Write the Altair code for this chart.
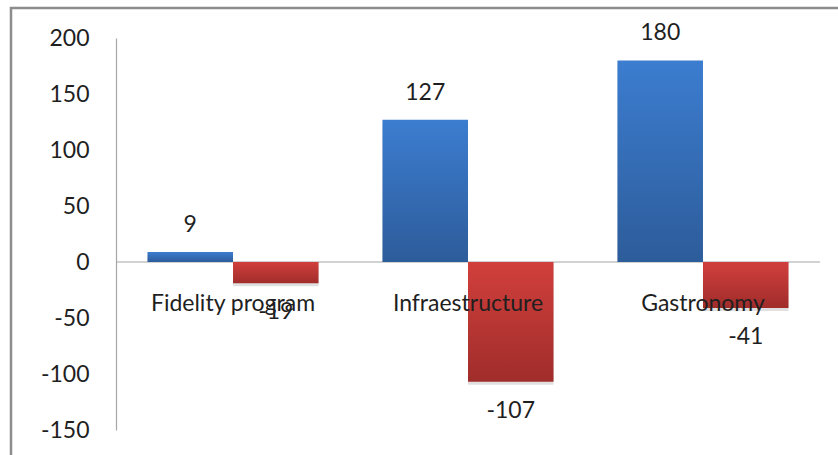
import altair as alt
import pandas as pd

categories = ["Fidelity program", "Infraestructure", "Gastronomy"]
positive_values = [9, 127, 180]
negative_values = [-19, -107, -41]
y_ticks = [-150, -100, -50, 0, 50, 100, 150, 200]

rows = []
for c, p, n in zip(categories, positive_values, negative_values):
    rows.append({"category": c, "series": "pos", "value": p})
    rows.append({"category": c, "series": "neg", "value": n})
df = pd.DataFrame(rows)
cat_df = pd.DataFrame({"category": categories})

FONT = "Lato"
W, H = 704, 392

x_enc = alt.X("category:N", sort=categories,
              scale=alt.Scale(paddingInner=0.272, paddingOuter=0.134), axis=None)
xo_enc = alt.XOffset("series:N", scale=alt.Scale(domain=["pos", "neg"], paddingInner=0, paddingOuter=0))
y_enc = alt.Y("value:Q",
              scale=alt.Scale(domain=[-150, 200], nice=False, zero=False),
              axis=alt.Axis(values=y_ticks, grid=False, ticks=False, domainColor="#a6a6a6",
                            domainWidth=1.2, labelFontSize=23, labelFont=FONT, labelColor="#1f1f1f",
                            labelPadding=27, title=None, labelExpr="toString(datum.value)"))

base = alt.Chart(df).transform_calculate(label="toString(datum.value)")

frame = alt.Chart(pd.DataFrame({"a": [0]})).mark_rect(
    fill="white", fillOpacity=0, stroke="#8c8c8c", strokeWidth=2.5
).encode(x=alt.value(-105), x2=alt.value(740), y=alt.value(-30), y2=alt.value(440))

zero_rule = alt.Chart(pd.DataFrame({"a": [0]})).mark_rule(color="#a6a6a6", strokeWidth=1.2).encode(
    y=alt.datum(0), x=alt.value(0), x2=alt.value(W)
)

shadow = base.mark_bar(color="#000000", opacity=0.12, xOffset=2, yOffset=3).encode(
    x=x_enc, xOffset=xo_enc, y=y_enc, y2=alt.datum(0)
)

blue_grad = alt.Gradient(gradient="linear", x1=0, x2=0, y1=0, y2=1,
                         stops=[alt.GradientStop(color="#3c7dd0", offset=0),
                                alt.GradientStop(color="#2d5c9a", offset=1)])
red_grad = alt.Gradient(gradient="linear", x1=0, x2=0, y1=0, y2=1,
                        stops=[alt.GradientStop(color="#d13f3c", offset=0),
                               alt.GradientStop(color="#a02d2b", offset=1)])

blue = base.transform_filter(alt.datum.series == "pos").mark_bar(color=blue_grad).encode(
    x=x_enc, xOffset=xo_enc, y=y_enc, y2=alt.datum(0)
)
red = base.transform_filter(alt.datum.series == "neg").mark_bar(color=red_grad).encode(
    x=x_enc, xOffset=xo_enc, y=y_enc, y2=alt.datum(0)
)

pos_labels = base.transform_filter(alt.datum.series == "pos").mark_text(
    font=FONT, fontSize=23, color="#1f1f1f", baseline="middle", dy=-27
).encode(x=x_enc, xOffset=xo_enc, y=y_enc, text="label:N")

neg_labels = base.transform_filter(alt.datum.series == "neg").mark_text(
    font=FONT, fontSize=23, color="#1f1f1f", baseline="middle", dy=29
).encode(x=x_enc, xOffset=xo_enc, y=y_enc, text="label:N")

cat_labels = alt.Chart(cat_df).mark_text(
    font=FONT, fontSize=23, color="#1f1f1f", baseline="middle"
).encode(x=x_enc, y=alt.datum(-37.5), text="category:N")

chart = alt.layer(
    frame, zero_rule, shadow, blue, red, pos_labels, neg_labels, cat_labels
).properties(
    width=W, height=H,
    autosize=alt.AutoSizeParams(type="none"),
    padding={"left": 116, "top": 38, "right": 18, "bottom": 25},
    background="white",
).configure_view(strokeOpacity=0, strokeWidth=0)

chart.save("out.html", embed_options={"renderer": "svg", "actions": False})
